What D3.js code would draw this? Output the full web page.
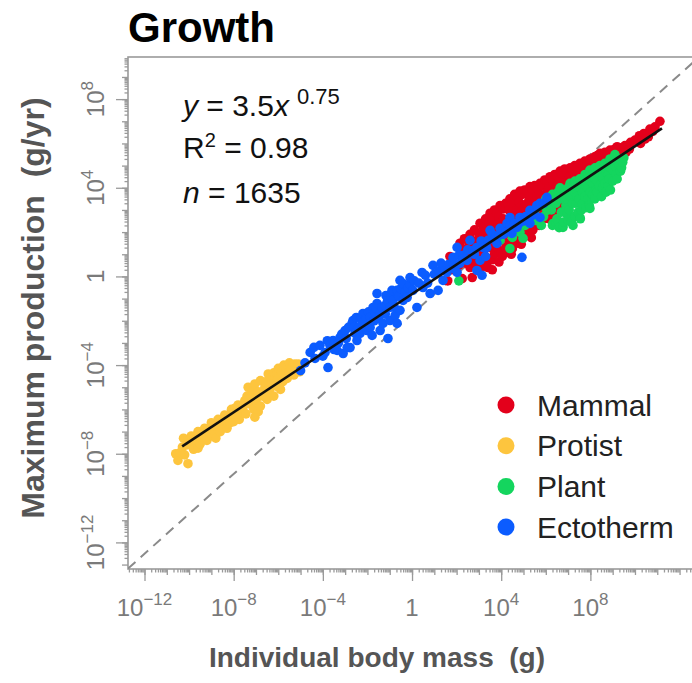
<!DOCTYPE html>
<html>
<head>
<meta charset="utf-8">
<script src="https://cdn.jsdelivr.net/npm/d3@7"></script>
<style>
  body { margin: 0; background: #fff; }
  text { font-family: "Liberation Sans", Arial, Helvetica, sans-serif; }
</style>
</head>
<body>
<svg id="chart"></svg>
<script>
// every point is [log10 body mass (g), log10 max production (g/yr)]
const mammal = [
  [1.6,-0.2],[1.7,0.9],[1.75,0.3],
  [2.1,0.5],[2.15,1.5],[2.2,1.0],[2.25,-0.1],
  [2.35,1.2],[2.4,0.6],[2.35,1.7],
  [2.55,1.4],[2.6,1.9],[2.6,0.4],[2.65,0.9],[2.7,-0.05],
  [2.8,2.1],[2.8,1.6],[2.85,1.1],[2.85,0.6],
  [3.0,1.9],[3.0,0.9],[3.05,2.4],[3.1,1.4],[3.1,0.4],
  [3.2,2.2],[3.2,1.1],[3.25,1.9],
  [3.3,2.6],[3.3,1.6],[3.3,0.6],
  [3.4,0.4],[3.45,2.4],[3.45,0.8],[3.5,2.85],[3.5,1.3],[3.55,1.9],[3.6,0.3],
  [3.6,2.6],[3.6,1.6],[3.65,2.3],[3.6,0.75],
  [3.7,3.0],[3.7,2.0],[3.7,1.0],
  [3.8,2.85],[3.8,1.3],[3.85,2.4],
  [3.9,2.7],[3.9,0.65],[3.95,3.2],[3.95,1.6],[4.0,2.2],[4.0,1.1],
  [4.1,3.05],[4.1,2.6],[4.1,1.8],[4.05,0.9],
  [4.2,3.3],[4.2,2.4],[4.2,1.3],
  [4.3,3.3],[4.3,2.2],[4.28,1.1],
  [4.35,3.0],[4.35,1.5],[4.39,3.5],[4.4,2.0],[4.45,2.5],[4.45,1.0],
  [4.5,3.3],[4.5,2.9],[4.55,2.1],[4.5,1.25],
  [4.6,3.7],[4.6,2.7],[4.6,1.7],
  [4.7,3.6],[4.7,3.0],[4.7,2.2],[4.72,1.5],
  [4.8,3.35],[4.8,1.9],[4.84,3.85],[4.85,2.4],[4.9,2.9],[4.9,1.45],
  [4.95,3.7],[4.95,3.2],[4.97,2.6],
  [5.05,3.9],[5.05,3.1],[5.05,2.2],
  [5.15,3.85],[5.15,3.3],[5.15,2.6],[5.15,2.0],
  [5.25,3.6],[5.25,2.2],[5.29,4.05],[5.3,2.7],[5.35,3.15],[5.35,1.75],
  [5.4,3.9],[5.4,2.9],[5.42,2.1],
  [5.5,4.1],[5.5,3.4],[5.5,2.5],
  [5.6,4.0],[5.6,3.6],[5.62,3.0],
  [5.7,3.75],[5.7,2.3],[5.74,4.2],[5.75,2.8],[5.8,3.3],
  [5.85,4.1],[5.85,3.5],[5.87,2.6],
  [5.95,4.35],[5.95,3.6],[5.95,2.9],
  [6.05,4.3],[6.05,3.85],[6.07,3.3],
  [6.15,4.05],[6.15,2.6],[6.19,4.5],[6.2,3.1],[6.25,3.6],
  [6.3,4.3],[6.3,3.4],[6.3,2.85],
  [6.4,4.6],[6.4,3.9],[6.4,3.2],
  [6.5,4.55],[6.5,4.05],[6.52,3.5],
  [6.6,4.3],[6.6,3.0],[6.64,4.75],[6.65,3.4],[6.7,3.85],
  [6.75,4.6],[6.75,4.0],[6.77,3.3],
  [6.85,4.85],[6.85,4.2],[6.85,3.6],
  [6.95,4.7],[6.95,4.3],[6.97,3.8],
  [7.05,4.5],[7.09,4.9],[7.1,3.6],[7.15,4.1],
  [7.2,4.8],[7.2,4.3],[7.22,3.9],
  [7.3,5.0],[7.3,4.4],
  [7.4,4.9],[7.4,4.5],[7.42,4.1],
  [7.5,4.7],[7.53,5.1],[7.55,3.9],[7.6,4.3],
  [7.65,5.0],[7.65,4.5],
  [7.75,5.2],[7.75,4.6],
  [7.85,5.15],[7.85,4.7],
  [7.95,4.9],[7.98,5.3],[8.0,4.1],[8.05,4.5],
  [8.1,5.3],[8.1,4.9],
  [8.2,5.4],[8.2,4.8],
  [8.3,5.45],[8.3,5.0],
  [8.4,5.15],[8.43,5.55],[8.45,4.4],[8.5,4.75],
  [8.55,5.5],[8.55,5.05],
  [8.65,5.6],[8.65,5.1],
  [8.75,5.55],[8.75,5.2],
  [8.85,5.35],[8.88,5.7],[8.95,5.0],
  [9.0,5.65],[9.0,5.4],
  [9.1,5.75],[9.1,5.3],
  [9.2,5.85],[9.2,5.55],
  [9.3,5.45],[9.33,5.8],[9.4,5.15],
  [9.55,5.9],[9.6,5.6],
  [9.75,5.75],[9.8,6.05],
  [10.0,6.15],
  [10.2,6.35],[10.25,6.0],
  [10.4,6.45],[10.45,6.2],
  [10.6,6.3],[10.67,6.65],[10.8,6.55],[10.9,6.75],[11.12,7.0]
];

const protist = [
  [-10.6,-8.0],[-10.5,-8.3],[-10.4,-7.95],[-10.3,-7.7],[-10.25,-7.3],[-10.2,-8.05],
  [-10.1,-7.6],[-10.05,-8.45],
  [-9.95,-7.55],[-9.9,-7.2],[-9.85,-7.5],[-9.8,-7.8],[-9.7,-7.35],[-9.65,-7.45],
  [-9.6,-7.0],[-9.6,-7.75],[-9.5,-7.55],[-9.45,-7.35],
  [-9.4,-7.15],[-9.3,-6.85],[-9.25,-7.1],[-9.2,-7.4],[-9.1,-6.95],[-9.05,-7.1],
  [-9.0,-6.6],[-8.95,-7.2],[-8.9,-6.95],
  [-8.85,-6.75],[-8.8,-7.3],[-8.7,-6.45],[-8.65,-6.7],[-8.6,-7.0],[-8.5,-6.6],
  [-8.45,-6.45],[-8.4,-6.25],[-8.3,-6.85],
  [-8.25,-6.65],[-8.2,-6.35],[-8.15,-6.6],[-8.1,-6.0],[-8.0,-6.55],[-7.95,-5.95],
  [-7.9,-6.2],[-7.8,-5.8],[-7.75,-6.45],[-7.7,-6.1],
  [-7.6,-5.95],[-7.55,-5.8],[-7.5,-5.6],[-7.45,-6.2],[-7.4,-5.4],[-7.35,-5.0],
  [-7.3,-5.75],[-7.2,-5.45],[-7.15,-5.2],[-7.1,-6.0],
  [-7.05,-6.35],[-7.05,-4.85],[-7.0,-5.6],[-6.95,-5.45],[-6.9,-5.2],[-6.9,-6.1],
  [-6.8,-5.85],[-6.8,-4.7],
  [-6.7,-5.4],[-6.65,-5.25],[-6.6,-5.0],[-6.55,-4.75],[-6.5,-5.55],[-6.45,-4.4],
  [-6.4,-5.15],[-6.35,-4.6],[-6.3,-4.85],[-6.2,-5.4],[-6.2,-4.35],[-6.1,-4.95],
  [-6.05,-4.4],[-6.0,-4.6],[-6.0,-4.15],
  [-5.9,-5.1],[-5.85,-4.3],[-5.8,-4.75],[-5.75,-4.0],[-5.7,-4.4],[-5.65,-4.15],
  [-5.6,-4.6],[-5.5,-4.3],[-5.5,-3.9],
  [-5.4,-4.15],[-5.35,-4.0],[-5.3,-4.45],[-5.25,-3.95],[-5.2,-4.2],[-5.1,-3.95],
  [-5.05,-4.3]
];

const plant = [
  [2.1,-0.2],[3.95,1.63],[4.39,1.26],[4.5,1.76],[4.84,1.99],[4.98,1.72],[5.07,2.3],
  [5.52,2.53],[5.52,3.0],[5.61,2.53],[5.74,3.2],[5.8,2.3],[5.9,2.7],[6.0,3.5],
  [6.05,2.98],[6.1,3.3],
  [6.25,3.0],[6.3,3.7],[6.3,2.3],[6.32,2.39],
  [6.45,3.3],[6.45,2.45],[6.5,2.6],[6.55,3.8],
  [6.6,2.2],[6.64,4.0],[6.64,3.5],[6.7,2.9],[6.77,2.21],[6.77,2.3],
  [6.8,2.45],[6.86,3.8],[6.9,3.2],
  [6.95,3.5],[6.95,2.8],[7.0,4.0],
  [7.0,2.53],[7.05,3.0],[7.09,4.2],[7.1,3.6],[7.15,2.45],[7.22,2.3],
  [7.2,3.3],[7.25,4.05],
  [7.3,3.8],[7.3,2.7],[7.31,4.3],[7.35,3.3],
  [7.4,3.6],[7.45,4.2],[7.45,2.9],
  [7.5,3.5],[7.53,4.4],[7.53,2.66],[7.55,4.0],[7.55,2.6],[7.6,3.0],
  [7.65,3.3],[7.65,3.8],[7.7,4.3],
  [7.75,3.6],[7.76,4.6],[7.8,4.1],[7.8,3.1],
  [7.9,3.5],[7.9,4.0],[7.9,4.5],
  [7.95,3.2],[7.98,4.8],[7.98,3.07],[8.0,4.3],[8.0,3.8],
  [8.1,3.7],[8.1,4.2],[8.1,4.65],
  [8.2,4.4],[8.2,3.5],[8.21,4.9],[8.25,3.9],
  [8.3,3.8],[8.3,4.3],[8.35,4.8],
  [8.4,4.1],[8.43,5.0],[8.45,4.6],[8.5,3.6],
  [8.55,4.0],[8.55,4.45],[8.6,4.9],
  [8.65,5.1],[8.65,4.2],[8.7,4.7],[8.7,3.8],
  [8.8,4.1],[8.8,4.6],[8.8,5.05],
  [8.85,4.4],[8.88,5.3],[8.9,4.9],[8.9,3.9],
  [9.0,4.3],[9.0,4.8],
  [9.1,5.5],[9.1,5.0],[9.15,4.6],
  [9.2,4.4],[9.2,5.2],
  [9.3,5.0],[9.33,5.3],[9.35,4.75],[9.4,4.9],[9.45,5.15],[9.5,5.35]
];

const ectotherm = [
  [-5.0,-4.25],[-4.8,-3.9],[-4.57,-3.43],[-4.4,-3.2],[-4.35,-3.7],[-4.13,-3.11],
  [-4.0,-3.6],[-3.9,-3.43],[-3.8,-2.9],[-3.77,-4.11],
  [-3.68,-3.11],[-3.54,-2.89],[-3.5,-3.3],[-3.36,-3.34],[-3.3,-3.0],[-3.23,-2.75],
  [-3.15,-2.6],[-3.09,-3.48],[-3.0,-2.44],[-2.95,-2.8],
  [-2.91,-3.21],[-2.85,-2.3],[-2.78,-3.21],[-2.69,-2.12],[-2.65,-1.99],[-2.6,-2.3],
  [-2.56,-2.57],[-2.5,-1.85],[-2.47,-2.89],[-2.4,-2.3],
  [-2.33,-2.57],[-2.3,-1.9],[-2.24,-2.08],[-2.2,-1.67],[-2.1,-2.2],[-2.06,-1.9],
  [-2.02,-2.44],[-1.95,-1.6],[-1.88,-1.85],
  [-1.88,-2.3],[-1.79,-2.66],[-1.75,-1.4],[-1.7,-2.0],[-1.66,-1.63],[-1.6,-1.45],
  [-1.57,-1.22],[-1.57,-0.77],[-1.5,-1.9],
  [-1.43,-1.67],[-1.43,-2.44],[-1.35,-1.4],[-1.3,-2.12],[-1.21,-1.31],[-1.2,-1.7],
  [-1.17,-0.86],[-1.1,-1.1],[-1.08,-2.8],
  [-0.99,-1.99],[-0.99,-1.4],[-0.95,-0.9],[-0.9,-0.63],[-0.85,-1.08],[-0.8,-1.4],
  [-0.76,-1.76],[-0.67,-0.63],
  [-0.67,-2.12],[-0.6,-0.9],[-0.54,-1.53],[-0.54,-0.18],[-0.5,-0.55],[-0.4,-0.32],
  [-0.4,-1.08],[-0.3,-0.7],[-0.22,-0.95],
  [-0.18,-0.5],[-0.1,-0.35],[-0.09,-0.05],[0.04,-0.63],[0.1,-0.2],[0.22,-1.4],
  [0.3,-0.3],[0.45,0.18],[0.49,-0.5],[0.6,0.05],[0.7,-0.3],
  [0.81,-0.77],[0.94,0.5],[1.0,0.1],[1.17,-0.63],[1.2,0.25],[1.3,0.6],[1.39,-0.18],
  [1.48,0.27],[1.57,0.18],[1.65,0.55],
  [1.84,0.59],[1.84,0.86],[1.9,0.35],[2.02,0.18],[2.02,1.31],[2.1,0.95],[2.15,0.59],
  [2.29,0.95],[2.3,0.8],[2.47,0.72],[2.5,1.2],[2.6,1.63],[2.74,1.17],[2.8,1.0],
  [2.9,1.3],[2.91,0.27],[3.05,0.72],[3.1,1.6],
  [3.14,0.05],[3.2,1.3],[3.3,0.9],[3.35,1.3],[3.41,1.63],[3.5,2.08],[3.6,1.9],
  [3.7,1.7],[3.81,1.49],[3.9,1.85],
  [3.95,2.17],[4.1,1.9],[4.2,2.0],[4.26,2.39],[4.39,2.66],[4.4,2.3],[4.48,1.94],
  [4.6,2.4],[4.71,2.21],[4.8,2.4],
  [4.84,2.66],[4.93,0.86],[5.0,2.5],[5.1,2.7],[5.29,2.98],[5.29,2.39],[5.4,2.75],
  [5.5,3.0],[5.6,3.2],[5.74,3.3],
  [5.74,2.66],[5.9,3.3],[6.05,3.43],[6.05,3.57]
];

const groups = ["Mammal", "Protist", "Plant", "Ectotherm"];
const groupColors = ["#e3001b", "#fdc53e", "#14d55e", "#0b5cff"];
const groupData = [mammal, protist, plant, ectotherm];

// fitted power law and the dashed reference line, endpoints in log10 units
const fitLine = [[-10.31, -7.67], [11.21, 6.68]];
const refLine = [[-12.74, -13.18], [12.88, 9.9]];

const tickExp = [-12, -8, -4, 0, 4, 8];
const xDomainExp = [-12.74, 13.5];
const yDomainExp = [-13.2, 9.9];

const w = 692;
const h = 683;
const plotLeft = 128, plotTop = 57, plotRight = 713, plotBottom = 569;

const svg = d3.select("#chart").attr("width", w).attr("height", h);

const x = d3.scaleLog().domain(xDomainExp.map((e) => 10 ** e)).range([plotLeft, plotRight]);
const y = d3.scaleLog().domain(yDomainExp.map((e) => 10 ** e)).range([plotBottom, plotTop]);

const px = (d) => x(10 ** d[0]);
const py = (d) => y(10 ** d[1]);

svg.append("defs").append("clipPath").attr("id", "plot-clip")
  .append("rect").attr("x", plotLeft).attr("y", plotTop)
  .attr("width", plotRight - plotLeft).attr("height", plotBottom - plotTop);

// ticks: labelled majors, every decade, and the 2..9 minors
const decades = d3.range(-13, 14);
const minorVals = [];
decades.forEach((k) => {
  for (let m = 2; m <= 9; m++) minorVals.push(m * 10 ** k);
});
const decadeVals = decades.map((k) => 10 ** k);
const majorVals = tickExp.map((k) => 10 ** k);

const inX = (v) => v >= x.domain()[0] && v <= x.domain()[1];
const inY = (v) => v >= y.domain()[0] && v <= y.domain()[1];

const tickLayers = [
  { vals: minorVals, size: 3.5 },
  { vals: decadeVals, size: 6 },
  { vals: majorVals, size: 12 },
];

tickLayers.forEach((layer) => {
  svg.append("g")
    .attr("class", "x-ticks")
    .attr("transform", "translate(0," + plotBottom + ")")
    .call(d3.axisBottom(x).tickValues(layer.vals.filter(inX)).tickSize(layer.size).tickFormat(""));
  svg.append("g")
    .attr("class", "y-ticks")
    .attr("transform", "translate(" + plotLeft + ",0)")
    .call(d3.axisLeft(y).tickValues(layer.vals.filter(inY)).tickSize(layer.size).tickFormat(""));
});
svg.selectAll(".x-ticks .domain, .y-ticks .domain").remove();
svg.selectAll(".x-ticks line, .y-ticks line").attr("stroke", "#9a9a9a").attr("stroke-width", 1.3);

// plot frame
svg.append("rect")
  .attr("x", plotLeft).attr("y", plotTop)
  .attr("width", plotRight - plotLeft).attr("height", plotBottom - plotTop)
  .attr("fill", "none").attr("stroke", "#9a9a9a").attr("stroke-width", 1.6);

// tick labels as 10 with a superscript
const addPowerLabel = (sel, e) => {
  if (e === 0) {
    sel.text("1");
    return;
  }
  sel.append("tspan").text("10");
  sel.append("tspan").attr("dy", -11).attr("font-size", 17)
    .text(e < 0 ? "\u2212" + Math.abs(e) : String(e));
};

tickExp.forEach((e) => {
  const t = svg.append("text")
    .attr("x", x(10 ** e)).attr("y", 616)
    .attr("text-anchor", "middle")
    .attr("font-size", 24).attr("fill", "#7a7a7a");
  addPowerLabel(t, e);

  const ty = svg.append("text")
    .attr("transform", "translate(104," + y(10 ** e) + ") rotate(-90)")
    .attr("text-anchor", "middle")
    .attr("font-size", 24).attr("fill", "#7a7a7a");
  addPowerLabel(ty, e);
});

// dashed reference line
const line = d3.line().x(px).y(py);
svg.append("path")
  .datum(refLine)
  .attr("clip-path", "url(#plot-clip)")
  .attr("d", line)
  .attr("fill", "none").attr("stroke", "#8a8a8a")
  .attr("stroke-width", 2).attr("stroke-dasharray", "10,7");

// points
groupData.forEach((pts, i) => {
  svg.append("g").attr("class", "points")
    .selectAll("circle")
    .data(pts)
    .enter()
    .append("circle")
    .attr("cx", px)
    .attr("cy", py)
    .attr("r", 4.8)
    .attr("fill", groupColors[i]);
});

// fitted line
svg.append("path")
  .datum(fitLine)
  .attr("d", line)
  .attr("fill", "none").attr("stroke", "#111")
  .attr("stroke-width", 2.6);

// equation block
const eq = svg.append("g").attr("font-size", 30).attr("fill", "#111");
const l1 = eq.append("text").attr("x", 183).attr("y", 116);
l1.append("tspan").attr("font-style", "italic").text("y");
l1.append("tspan").text(" = 3.5");
l1.append("tspan").attr("font-style", "italic").text("x");
l1.append("tspan").attr("dy", -12).attr("dx", 8).attr("font-size", 22).text("0.75");

const l2 = eq.append("text").attr("x", 183).attr("y", 158);
l2.append("tspan").text("R");
l2.append("tspan").attr("dy", -11).attr("font-size", 20).text("2");
l2.append("tspan").attr("dy", 11).text(" = 0.98");

const l3 = eq.append("text").attr("x", 183).attr("y", 203);
l3.append("tspan").attr("font-style", "italic").text("n");
l3.append("tspan").text(" = 1635");

// legend
const legend = svg.append("g")
  .selectAll("g")
  .data(groups)
  .enter()
  .append("g")
  .attr("transform", (d, i) => "translate(506," + (405 + i * 40.7) + ")");
legend.append("circle").attr("r", 8.5).attr("fill", (d, i) => groupColors[i]);
legend.append("text")
  .attr("x", 31).attr("y", 10.5)
  .attr("font-size", 30).attr("fill", "#222")
  .text((d) => d);

// titles
svg.append("text")
  .attr("x", 128).attr("y", 42)
  .attr("font-size", 42).attr("font-weight", "bold").attr("fill", "#000")
  .text("Growth");

svg.append("text")
  .attr("x", 377).attr("y", 667)
  .attr("text-anchor", "middle")
  .attr("font-size", 28).attr("font-weight", "bold").attr("fill", "#555")
  .text("Individual body mass\u00a0\u00a0(g)");

svg.append("text")
  .attr("transform", "translate(44,308) rotate(-90)")
  .attr("text-anchor", "middle")
  .attr("font-size", 32).attr("font-weight", "bold").attr("fill", "#555")
  .text("Maximum production\u00a0\u00a0(g/yr)");
</script>
</body>
</html>
